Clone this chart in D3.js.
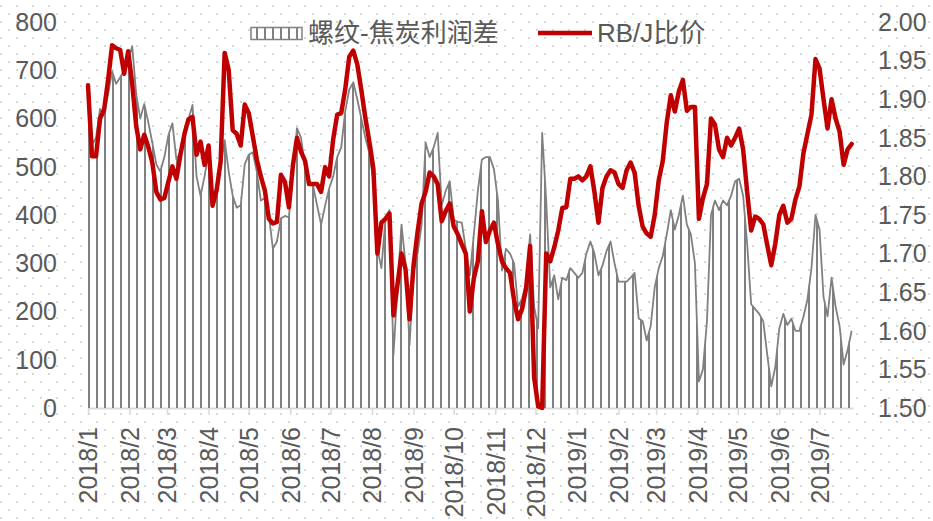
<!DOCTYPE html>
<html>
<head>
<meta charset="utf-8">
<script src="https://cdn.jsdelivr.net/npm/d3@7"></script>
<style>
  html, body { margin: 0; padding: 0; background: #fff; }
  svg text { font-family: "Liberation Sans", Arial, "Noto Sans CJK SC", sans-serif; fill: #595959; }
</style>
</head>
<body>
<div id="chart"></div>
<script>
// month labels on the x axis
const monthLabels = ['2018/1', '2018/2', '2018/3', '2018/4', '2018/5', '2018/6', '2018/7', '2018/8', '2018/9',
  '2018/10', '2018/11', '2018/12', '2019/1', '2019/2', '2019/3', '2019/4', '2019/5', '2019/6', '2019/7'];

// readings taken every 3 days from 2018-01-01
const startDate = new Date(2018, 0, 1);
const endDate = new Date(2019, 6, 26);
const sampleStep = 3;

// 螺纹-焦炭利润差 (left axis)
const spreadValues = [
  660, 545, 560, 620, 610, 650, 698, 672, 685, 700,
  720, 750, 650, 600, 630, 592, 550, 505, 490, 520,
  565, 590, 515, 530, 570, 598, 628, 480, 440, 480,
  530, 430, 460, 500, 555, 490, 440, 415, 420, 505,
  525, 530, 490, 430, 435, 400, 330, 345, 393, 398,
  395, 500, 580, 560, 500, 470, 460, 420, 380, 420,
  455, 480, 520, 540, 615, 660, 675, 640, 600, 560,
  528, 470, 330, 290, 390, 410, 110, 250, 380, 300,
  130, 280, 320, 380, 550, 520, 540, 570, 420, 450,
  470, 390, 386, 384, 330, 275, 360, 450, 515, 520,
  520, 495, 430, 285, 330, 320, 300, 210, 227, 260,
  360, 210, 165, 570, 430, 250, 275, 225, 270, 265,
  290, 280, 270, 280, 320, 345, 320, 275, 295, 325,
  345, 300, 262, 262, 262, 270, 280, 186, 180, 140,
  170, 250, 290, 315, 360, 410, 370, 400, 440, 380,
  360, 300, 55, 80, 180, 400, 430, 410, 430, 420,
  440, 470, 475, 440, 340, 215, 205, 195, 180, 110,
  45, 85, 165, 195, 172, 185, 160, 160, 189, 225,
  290, 400, 370, 230, 190, 270, 210, 170, 90, 120,
  160
];

// RB/J比价 (right axis)
const ratioValues = [
  1.918, 1.826, 1.826, 1.875, 1.886, 1.925, 1.970, 1.966, 1.964, 1.933,
  1.962, 1.920, 1.865, 1.835, 1.854, 1.838, 1.818, 1.780, 1.770, 1.772,
  1.793, 1.813, 1.797, 1.828, 1.855, 1.874, 1.877, 1.828, 1.845, 1.815,
  1.840, 1.762, 1.782, 1.819, 1.960, 1.938, 1.860, 1.855, 1.840, 1.893,
  1.882, 1.852, 1.822, 1.800, 1.782, 1.745, 1.739, 1.741, 1.802, 1.793,
  1.760, 1.815, 1.850, 1.832, 1.820, 1.790, 1.790, 1.790, 1.780, 1.812,
  1.800, 1.848, 1.880, 1.882, 1.913, 1.955, 1.963, 1.945, 1.912, 1.876,
  1.845, 1.810, 1.700, 1.740, 1.745, 1.752, 1.620, 1.660, 1.700, 1.680,
  1.615, 1.685, 1.728, 1.765, 1.780, 1.805, 1.800, 1.790, 1.742, 1.755,
  1.765, 1.735, 1.725, 1.712, 1.700, 1.625, 1.668, 1.690, 1.755, 1.715,
  1.730, 1.740, 1.712, 1.690, 1.681, 1.675, 1.640, 1.615, 1.628, 1.655,
  1.710, 1.540, 1.502, 1.500, 1.700, 1.690, 1.708, 1.730, 1.759, 1.760,
  1.797, 1.797, 1.800, 1.795, 1.800, 1.813, 1.780, 1.740, 1.785, 1.800,
  1.808, 1.805, 1.790, 1.785, 1.808, 1.818, 1.805, 1.762, 1.735, 1.726,
  1.722, 1.750, 1.795, 1.820, 1.870, 1.905, 1.884, 1.910, 1.925, 1.885,
  1.890, 1.890, 1.745, 1.772, 1.790, 1.875, 1.867, 1.835, 1.825, 1.850,
  1.840, 1.850, 1.862, 1.835, 1.780, 1.730, 1.748, 1.745, 1.738, 1.711,
  1.685, 1.713, 1.750, 1.762, 1.740, 1.745, 1.770, 1.787, 1.830, 1.855,
  1.880, 1.952, 1.940, 1.900, 1.862, 1.900, 1.875, 1.858, 1.815, 1.835,
  1.842
];

const leftTicks = [0, 100, 200, 300, 400, 500, 600, 700, 800];
const rightTicks = [1.50, 1.55, 1.60, 1.65, 1.70, 1.75, 1.80, 1.85, 1.90, 1.95, 2.00];

const width = 933, height = 521;
const plot = { left: 88, right: 853, top: 22, bottom: 408 };
const spreadColor = '#808080';
const ratioColor = '#C00000';

const dates = d3.timeDay.range(startDate, endDate, sampleStep).slice(0, spreadValues.length);
const spread = dates.map((d, i) => ({ date: d, v: spreadValues[i] }));
const ratio = dates.map((d, i) => ({ date: d, v: ratioValues[i] }));
const tickDates = monthLabels.map(s => d3.timeParse('%Y/%m')(s));

const svg = d3.select('#chart').append('svg')
  .attr('width', width)
  .attr('height', height);

const defs = svg.append('defs');

// dotted background
const dots = defs.append('pattern')
  .attr('id', 'dots')
  .attr('patternUnits', 'userSpaceOnUse')
  .attr('width', 16).attr('height', 16);
dots.append('rect').attr('x', 0).attr('y', 5).attr('width', 2).attr('height', 2).attr('fill', '#d6d6d6');
dots.append('rect').attr('x', 8).attr('y', 13).attr('width', 2).attr('height', 2).attr('fill', '#d6d6d6');

// vertical stripe fill for the spread area
const stripes = defs.append('pattern')
  .attr('id', 'stripes')
  .attr('patternUnits', 'userSpaceOnUse')
  .attr('x', plot.left)
  .attr('width', 8).attr('height', 8);
stripes.append('rect').attr('x', 0).attr('y', 0).attr('width', 2).attr('height', 8).attr('fill', spreadColor);

svg.append('rect').attr('width', width).attr('height', height).attr('fill', '#fff');
svg.append('rect').attr('width', width).attr('height', height).attr('fill', 'url(#dots)');

const x = d3.scaleTime().domain([startDate, endDate]).range([plot.left, plot.right]);
const yLeft = d3.scaleLinear().domain([0, 800]).range([plot.bottom, plot.top]);
const yRight = d3.scaleLinear().domain([1.5, 2.0]).range([plot.bottom, plot.top]);

// x axis
const xAxis = svg.append('g')
  .attr('transform', `translate(0,${plot.bottom})`)
  .call(d3.axisBottom(x).tickValues(tickDates).tickSize(7).tickSizeOuter(0).tickFormat((d, i) => monthLabels[i]));
xAxis.select('.domain').attr('stroke', '#d9d9d9').attr('stroke-width', 2);
xAxis.selectAll('.tick line').attr('stroke', '#d9d9d9').attr('stroke-width', 1.5);
xAxis.selectAll('.tick text')
  .attr('transform', 'rotate(-90)')
  .attr('text-anchor', 'end')
  .attr('x', -19)
  .attr('y', 0)
  .attr('dy', '0.35em')
  .style('font-size', '25px')
  .style('fill', '#595959');

// left axis labels
svg.append('g').selectAll('text')
  .data(leftTicks)
  .join('text')
    .attr('x', 57)
    .attr('y', d => yLeft(d))
    .attr('dy', '0.35em')
    .attr('text-anchor', 'end')
    .style('font-size', '25px')
    .text(d => d);

// right axis labels
svg.append('g').selectAll('text')
  .data(rightTicks)
  .join('text')
    .attr('x', 878)
    .attr('y', d => yRight(d))
    .attr('dy', '0.35em')
    .attr('text-anchor', 'start')
    .style('font-size', '25px')
    .text(d => d3.format('.2f')(d));

// spread area with stripes
svg.append('path')
  .datum(spread)
  .attr('fill', 'url(#stripes)')
  .attr('d', d3.area().x(d => x(d.date)).y0(yLeft(0)).y1(d => yLeft(d.v)));

svg.append('path')
  .datum(spread)
  .attr('fill', 'none')
  .attr('stroke', spreadColor)
  .attr('stroke-width', 1.8)
  .attr('stroke-linejoin', 'round')
  .attr('d', d3.line().x(d => x(d.date)).y(d => yLeft(d.v)));

// ratio line
svg.append('path')
  .datum(ratio)
  .attr('fill', 'none')
  .attr('stroke', ratioColor)
  .attr('stroke-width', 4.5)
  .attr('stroke-linejoin', 'round')
  .attr('stroke-linecap', 'round')
  .attr('d', d3.line().x(d => x(d.date)).y(d => yRight(d.v)));

// legend
const legend = svg.append('g');
legend.append('rect')
  .attr('x', 251).attr('y', 27.5).attr('width', 51).attr('height', 12)
  .attr('fill', 'url(#stripes)')
  .attr('stroke', spreadColor).attr('stroke-width', 1.5);
legend.append('text')
  .attr('x', 308).attr('y', 33).attr('dy', '0.35em')
  .style('font-size', '26px')
  .text('螺纹-焦炭利润差');
legend.append('line')
  .attr('x1', 538).attr('x2', 592).attr('y1', 33).attr('y2', 33)
  .attr('stroke', ratioColor).attr('stroke-width', 4.5);
legend.append('text')
  .attr('x', 597).attr('y', 33).attr('dy', '0.35em')
  .style('font-size', '26px')
  .text('RB/J比价');
</script>
</body>
</html>
